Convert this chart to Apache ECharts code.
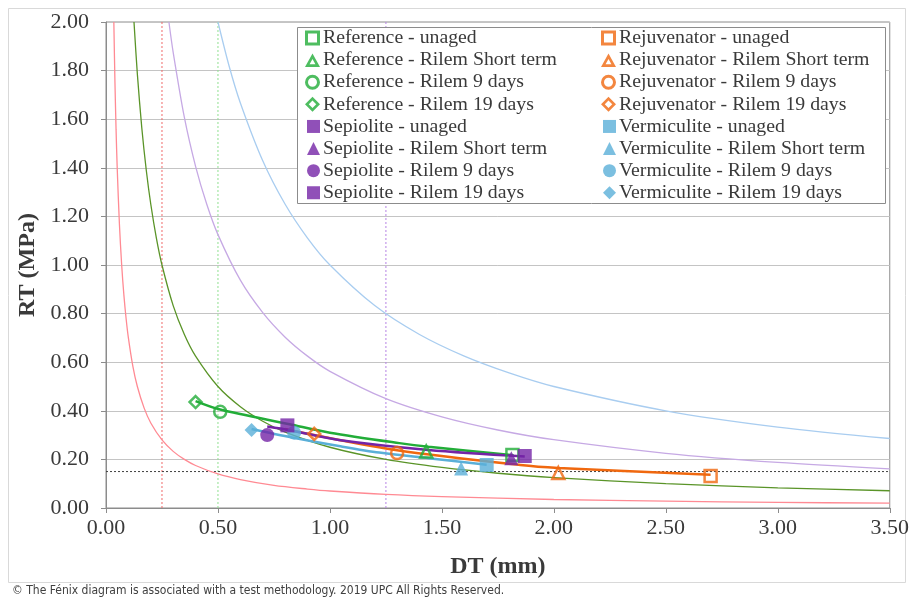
<!DOCTYPE html>
<html lang="en">
<head>
<meta charset="UTF-8">
<title>Fénix diagram RT - DT</title>
<script src="https://cdn.jsdelivr.net/npm/echarts@6/dist/echarts.min.js"></script>
<style>
  body { margin: 0; background: #fff; }
</style>
</head>
<body>
<div id="main" style="width: 912px;height:602px;"></div>
<script>
  // test conditions (same order for every material)
  const conditions = ['unaged', 'Rilem Short term', 'Rilem 9 days', 'Rilem 19 days'];
  const symbols = ['rect', 'triangle', 'circle', 'diamond'];
  const sepSymbols = ['rect', 'triangle', 'circle', 'rect'];

  // DT (mm) / RT (MPa)
  const refDT = [1.815, 1.43, 0.51, 0.40];
  const refRT = [0.218, 0.232, 0.396, 0.436];
  const sepDT = [1.87, 1.81, 0.72, 0.81];
  const sepRT = [0.214, 0.205, 0.300, 0.340];
  const rejDT = [2.70, 2.02, 1.30, 0.93];
  const rejRT = [0.132, 0.144, 0.226, 0.305];
  const verDT = [1.70, 1.586, 0.84, 0.65];
  const verRT = [0.177, 0.163, 0.310, 0.321];

  // trend lines through each material
  const refTrend = [[0.40, 0.44], [0.51, 0.405], [0.82, 0.345], [1.0, 0.31], [1.31, 0.267], [1.44, 0.252], [1.82, 0.217]];
  const sepTrend = [[0.72, 0.335], [0.82, 0.32], [1.04, 0.28], [1.44, 0.239], [1.87, 0.212]];
  const rejTrend = [[0.80, 0.325], [0.93, 0.30], [1.30, 0.238], [1.85, 0.177], [2.02, 0.165], [2.70, 0.137]];
  const verTrend = [[0.65, 0.325], [0.83, 0.29], [1.04, 0.255], [1.22, 0.228], [1.44, 0.205], [1.70, 0.178]];

  // reference hyperbolas (RT * DT = const)
  const curveRed = [[0.035, 2.0], [0.04, 1.75], [0.045, 1.556], [0.05, 1.4], [0.06, 1.167], [0.07, 1.0], [0.08, 0.875], [0.09, 0.778], [0.1, 0.7], [0.12, 0.583], [0.14, 0.5], [0.17, 0.412], [0.2, 0.35], [0.25, 0.28], [0.3, 0.233], [0.35, 0.2], [0.4, 0.175], [0.5, 0.14], [0.6, 0.117], [0.75, 0.093], [0.9, 0.078], [1.0, 0.07], [1.25, 0.056], [1.5, 0.047], [2.0, 0.035], [2.5, 0.028], [3.0, 0.023], [3.5, 0.02]];
  const curveOlive = [[0.125, 2.0], [0.14, 1.786], [0.16, 1.5625], [0.18, 1.389], [0.2, 1.25], [0.225, 1.111], [0.25, 1.0], [0.3, 0.833], [0.35, 0.714], [0.4, 0.625], [0.5, 0.5], [0.6, 0.417], [0.7, 0.357], [0.8, 0.3125], [1.0, 0.25], [1.25, 0.2], [1.5, 0.167], [1.75, 0.143], [2.0, 0.125], [2.5, 0.1], [3.0, 0.083], [3.5, 0.071]];
  const curvePurple = [[0.281, 2.0], [0.3, 1.875], [0.35, 1.607], [0.4, 1.406], [0.45, 1.25], [0.5, 1.125], [0.6, 0.9375], [0.7, 0.804], [0.8, 0.703], [0.9, 0.625], [1.0, 0.5625], [1.25, 0.45], [1.5, 0.375], [1.75, 0.321], [2.0, 0.281], [2.5, 0.225], [3.0, 0.1875], [3.5, 0.161]];
  const curveBlue = [[0.5, 2.0], [0.55, 1.818], [0.6, 1.667], [0.7, 1.429], [0.8, 1.25], [0.9, 1.111], [1.0, 1.0], [1.2, 0.833], [1.4, 0.714], [1.6, 0.625], [1.8, 0.556], [2.0, 0.5], [2.5, 0.4], [3.0, 0.333], [3.5, 0.286]];

  // limit lines
  const limitDT = [0.25, 0.50, 1.25];
  const limitRT = 0.15;

  const xTicks = ['0.00', '0.50', '1.00', '1.50', '2.00', '2.50', '3.00', '3.50'];

  const colors = {
    ref: '#22ad38', sep: '#7424a6', rej: '#f0680f', ver: '#5aafd8',
    red: '#ff8a93', olive: '#5a9428', purple: '#c6a9e4', blue: '#a9cdf0'
  };

  // hollow legend icons (outline drawn as a ring so the stroke stays thick)
  const hollowIcons = [
    'path://M0,0H10V10H0Z M2,2V8H8V2Z',
    'path://M5,0L10,9L0,9Z M5,3.71L3.06,7.2L6.94,7.2Z',
    'path://M5,0A5,5 0 1,1 5,10A5,5 0 1,1 5,0Z M5,2A3,3 0 1,0 5,8A3,3 0 1,0 5,2Z',
    'path://M5,0L10,5L5,10L0,5Z M5,2.5L2.5,5L5,7.5L7.5,5Z'
  ];

  const serif = '"Liberation Serif", "Times New Roman", serif';

  function pointSeries(material, dts, rts, syms, color, hollow, z) {
    return conditions.map((c, i) => ({
      name: material + ' - ' + c,
      type: 'scatter',
      symbol: syms[i],
      symbolSize: hollow ? 12 : 14,
      z: z,
      itemStyle: hollow
        ? { color: 'rgba(255,255,255,0)', borderColor: color, borderWidth: 2.5 }
        : { color: color },
      data: [[dts[i], rts[i]]]
    }));
  }

  function lineSeries(data, color, width, z) {
    return {
      type: 'line',
      data: data,
      symbol: 'none',
      smooth: 0.3,
      silent: true,
      z: z,
      lineStyle: { color: color, width: width }
    };
  }

  function dotted(data, color, width) {
    return {
      type: 'line',
      data: data,
      symbol: 'none',
      silent: true,
      z: 1,
      lineStyle: { color: color, width: width, type: [2, 2] }
    };
  }

  const rowH = 22.1;
  function legendBlock(material, color, hollow, left, top) {
    const size = hollow ? 15 : 13;
    return {
      orient: 'vertical',
      left: left - (size - 13),
      top: top,
      z: 20,
      padding: 0,
      itemGap: 0,
      itemWidth: size,
      itemHeight: size,
      selectedMode: false,
      itemStyle: { color: color, borderWidth: 0 },
      textStyle: { fontFamily: serif, fontSize: 19.8, color: '#3a3a3a', lineHeight: rowH, padding: [0, 0, 0, -2] },
      data: conditions.map((c, i) => hollow
        ? { name: material + ' - ' + c, icon: hollowIcons[i] }
        : material + ' - ' + c)
    };
  }

  const series = [
    lineSeries(curveRed, colors.red, 1.3, 2),
    lineSeries(curveOlive, colors.olive, 1.3, 2),
    lineSeries(curvePurple, colors.purple, 1.3, 2),
    lineSeries(curveBlue, colors.blue, 1.3, 2),
    dotted([[limitDT[0], 0], [limitDT[0], 2]], '#f06a6a', 1),
    dotted([[limitDT[1], 0], [limitDT[1], 2]], '#8fe08f', 1),
    dotted([[limitDT[2], 0], [limitDT[2], 2]], '#b784e4', 1),
    dotted([[0, limitRT], [3.5, limitRT]], '#404040', 1),
    lineSeries(refTrend, colors.ref, 2.5, 3),
    lineSeries(rejTrend, colors.rej, 2.5, 3),
    lineSeries(verTrend, colors.ver, 2.5, 3),
    lineSeries(sepTrend, colors.sep, 2.5, 3),
    ...pointSeries('Reference', refDT, refRT, symbols, colors.ref, true, 5),
    ...pointSeries('Rejuvenator', rejDT, rejRT, symbols, colors.rej, true, 5),
    ...pointSeries('Vermiculite', verDT, verRT, symbols, colors.ver, false, 4),
    ...pointSeries('Sepiolite', sepDT, sepRT, sepSymbols, colors.sep, false, 6)
  ];

  const myChart = echarts.init(document.getElementById('main'));
  const option = {
    animation: false,
    backgroundColor: '#fff',
    grid: {
      left: 106, right: 21, top: 22, bottom: 94,
      show: true, borderColor: '#8c8c8c', borderWidth: 1
    },
    legend: [
      legendBlock('Reference', colors.ref, true, 307, 27),
      legendBlock('Sepiolite', colors.sep, false, 307, 27 + 4 * rowH),
      legendBlock('Rejuvenator', colors.rej, true, 603, 27),
      legendBlock('Vermiculite', colors.ver, false, 603, 27 + 4 * rowH)
    ],
    xAxis: {
      type: 'value',
      min: 0, max: 3.5, interval: 0.5,
      name: 'DT (mm)',
      nameLocation: 'middle',
      nameGap: 47,
      nameTextStyle: { fontFamily: serif, fontSize: 24, fontWeight: 'bold', color: '#3a3a3a' },
      axisLine: { lineStyle: { color: '#8c8c8c' } },
      axisTick: { show: true, length: 5, lineStyle: { color: '#8c8c8c' } },
      axisLabel: {
        fontFamily: serif, fontSize: 22, color: '#3a3a3a', margin: 9,
        formatter: v => xTicks[Math.round(v / 0.5)]
      },
      splitLine: { show: false }
    },
    yAxis: {
      type: 'value',
      min: 0, max: 2, interval: 0.2,
      name: 'RT (MPa)',
      nameLocation: 'middle',
      nameGap: 62,
      nameTextStyle: { fontFamily: serif, fontSize: 24, fontWeight: 'bold', color: '#3a3a3a' },
      axisLine: { show: true, lineStyle: { color: '#8c8c8c' } },
      axisTick: { show: true, length: 5, lineStyle: { color: '#8c8c8c' } },
      axisLabel: {
        fontFamily: serif, fontSize: 22, color: '#3a3a3a', margin: 17,
        formatter: v => v.toFixed(2)
      },
      splitLine: { lineStyle: { color: '#c4c4c4', width: 1 } }
    },
    graphic: [
      {
        type: 'rect', silent: true, z: -1,
        shape: { x: 8.5, y: 8.5, width: 897, height: 574 },
        style: { fill: 'none', stroke: '#d9d9d9', lineWidth: 1 }
      },
      {
        type: 'rect', silent: true, z: 10,
        shape: { x: 297.5, y: 27.5, width: 588, height: 176 },
        style: { fill: '#fff', stroke: '#8c8c8c', lineWidth: 1 }
      },
      {
        type: 'text', left: 12, top: 585, silent: true,
        style: {
          text: '© The Fénix diagram is associated with a test methodology. 2019 UPC All Rights Reserved.',
          fontFamily: '"Liberation Sans Narrow", "DejaVu Sans Condensed", sans-serif',
          fontSize: 12, fill: '#404040'
        }
      }
    ],
    series: series
  };
  myChart.setOption(option);
</script>
</body>
</html>
